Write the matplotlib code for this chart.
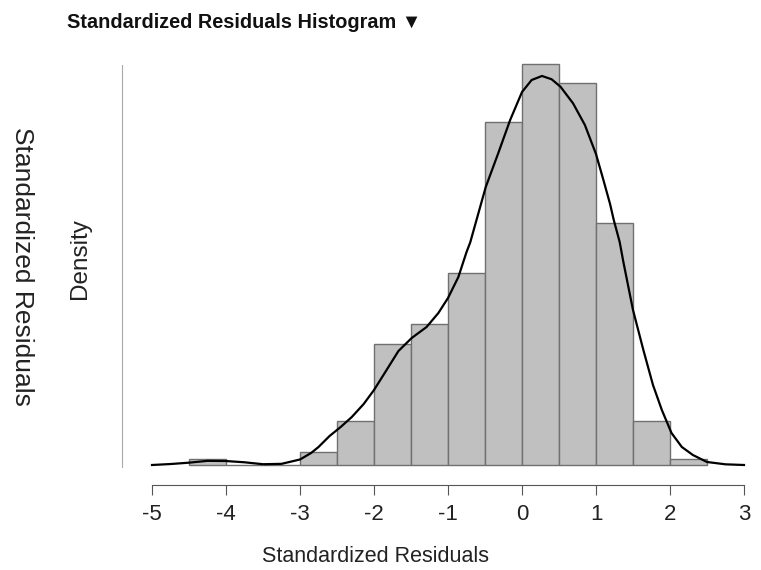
import numpy as np
import matplotlib.pyplot as plt

plt.rcParams['font.family'] = ['Liberation Sans', 'DejaVu Sans']

# histogram bins (width 0.5) and densities
bin_edges = [-4.5, -4.0, -3.5, -3.0, -2.5, -2.0, -1.5, -1.0, -0.5, 0.0, 0.5, 1.0, 1.5, 2.0, 2.5]
bin_density = [0.0062, 0.0, 0.0, 0.0134, 0.0455, 0.125, 0.1457, 0.1984,
               0.3545, 0.4145, 0.3948, 0.2501, 0.0455, 0.0062]

# density curve, read point by point
curve_x = [-5.0, -4.75, -4.5, -4.25, -4.0, -3.75, -3.5, -3.25, -3.0, -2.85, -2.75,
           -2.6, -2.45, -2.3, -2.14, -2.0, -1.83, -1.67, -1.49, -1.29, -1.13, -1.0,
           -0.86, -0.75, -0.7, -0.49, -0.32, -0.16, 0.0, 0.13, 0.27, 0.4, 0.52,
           0.69, 0.85, 1.0, 1.1, 1.19, 1.24, 1.32, 1.37, 1.5, 1.64, 1.77, 1.89,
           2.02, 2.16, 2.31, 2.5, 2.75, 3.0]
curve_y = [0.0, 0.0010, 0.0024, 0.0043, 0.0041, 0.0028, 0.0008, 0.0012, 0.0057,
           0.0124, 0.0186, 0.0300, 0.0393, 0.0496, 0.0630, 0.0775, 0.0982, 0.1178,
           0.1313, 0.1426, 0.1571, 0.1726, 0.1943, 0.2200, 0.2300, 0.2873, 0.3225,
           0.3566, 0.3855, 0.3979, 0.4021, 0.3987, 0.3910, 0.3738, 0.3514, 0.3214,
           0.2946, 0.2698, 0.2532, 0.2305, 0.2098, 0.1602, 0.1189, 0.0827, 0.0568,
           0.0331, 0.0186, 0.0103, 0.0031, 0.0007, 0.0]

x_ticks = [-5, -4, -3, -2, -1, 0, 1, 2, 3]

W, H = 761, 570
fig = plt.figure(figsize=(W / 100, H / 100), dpi=100)
ax = fig.add_axes([152 / W, (H - 467) / H, 592 / W, 404 / H])

px = 967.5  # pixels per density unit
ymin = -2 / px
ax.set_xlim(-5, 3)
ax.set_ylim(ymin, ymin + 404 / px)

widths = np.diff(bin_edges)
ax.bar(bin_edges[:-1], bin_density, width=widths, align='edge',
       color='#c0c0c0', edgecolor='#707070', linewidth=1.0, clip_on=False)
ax.plot(curve_x, curve_y, color='black', linewidth=1.6, clip_on=False,
        solid_joinstyle='round')

# spines
ax.spines['top'].set_visible(False)
ax.spines['right'].set_visible(False)
ax.spines['bottom'].set_position(('outward', 18 * 0.72))
ax.spines['bottom'].set_color('#555555')
ax.spines['bottom'].set_linewidth(0.8)
ax.spines['left'].set_position(('outward', 30 * 0.72))
ax.spines['left'].set_bounds(ymin, ymin + 402 / px)
ax.spines['left'].set_color('#aaaaaa')
ax.spines['left'].set_linewidth(0.8)

ax.set_xticks(x_ticks)
ax.set_xticklabels([str(t) for t in x_ticks])
ax.tick_params(axis='x', direction='out', length=7, width=0.8, color='#555555',
               labelsize=16, pad=7, labelcolor='#222222')
ax.set_yticks([])

# labels
fig.text(376 / W, 1 - 557 / H, 'Standardized Residuals', ha='center', va='center',
         fontsize=15.5, color='#222222')
fig.text(80 / W, 1 - 259 / H, 'Density', ha='center', va='center', rotation=90,
         fontsize=17.5, color='#222222')
fig.text(22 / W, 1 - 266 / H, 'Standardized Residuals', ha='center', va='center',
         rotation=270, fontsize=19, color='#222222')
fig.text(67 / W, 1 - 22 / H, 'Standardized Residuals Histogram \u25BC', ha='left',
         va='center', fontsize=14.3, fontweight='bold', color='#111111')

fig.savefig('out.png', dpi=100)
